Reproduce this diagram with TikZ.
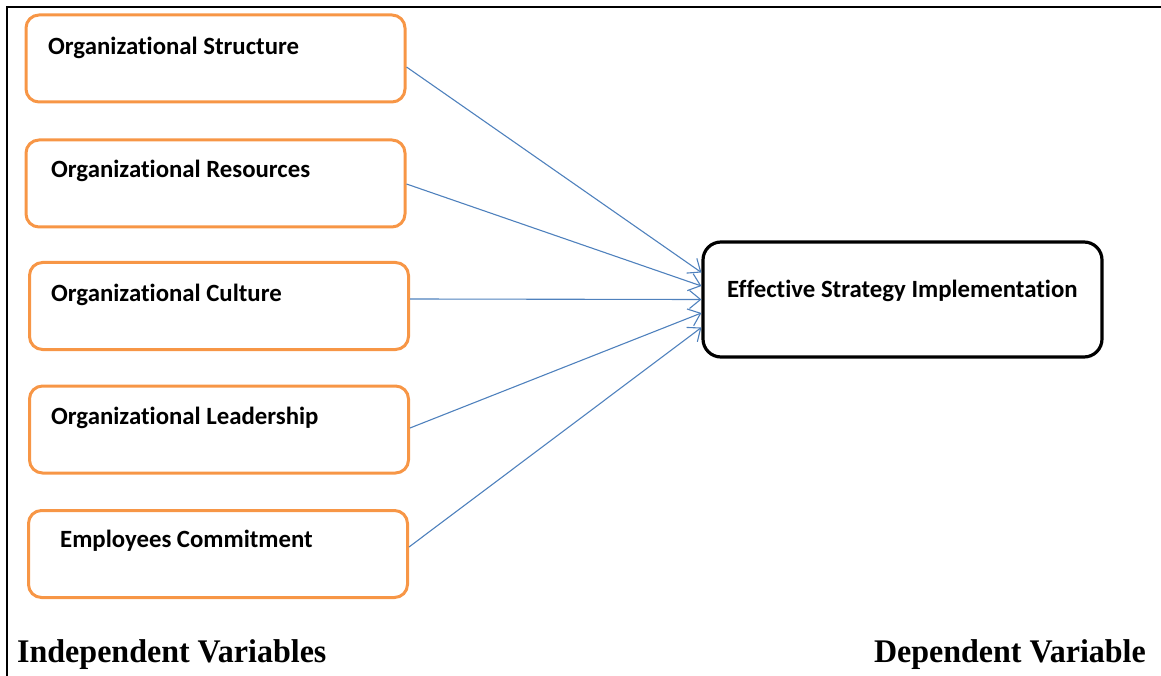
\documentclass[tikz,border=0pt]{standalone}
\usepackage{fontspec}
\setmainfont{Liberation Serif}
\newfontfamily\boxfont[Ligatures=NoCommon]{Carlito}
\newfontfamily\labfont[FakeStretch=0.97]{Liberation Serif}
\usetikzlibrary{arrows.meta,calc}
\definecolor{boxorange}{HTML}{F79646}
\definecolor{arrowblue}{HTML}{4F81BD}
\begin{document}
\begin{tikzpicture}[x=1pt,y=-1pt,
  ivbox/.style={draw=boxorange,line width=3pt,rounded corners=13pt,minimum width=379pt,minimum height=87pt,inner sep=0pt},
  dvbox/.style={draw=black,line width=3.2pt,rounded corners=18pt,minimum width=399pt,minimum height=115pt,inner sep=0pt},
  boxtext/.style={font=\boxfont\bfseries\fontsize{24.8}{28}\selectfont,anchor=base west,inner sep=0pt},
  labtext/.style={font=\labfont\bfseries\fontsize{33}{38}\selectfont,anchor=base west,inner sep=0pt},
  link/.style={draw=arrowblue,line width=1.1pt,-{Straight Barb[length=11pt,width=18pt,line width=1.1pt]}}]
\useasboundingbox (0,0) rectangle (1161,676);
\draw[line width=1.2pt] (7,676) -- (7,7) -- (1161,7);
% independent variable boxes
\node[ivbox] (b1) at (215.5,58.5) {};
\node[ivbox] (b2) at (215.5,183.5) {};
\node[ivbox] (b3) at (219,306) {};
\node[ivbox] (b4) at (219,429.5) {};
\node[ivbox] (b5) at (218,554) {};
\node[boxtext] (t1) at (48,54.5) {Organizational Structure};
\node[boxtext] (t2) at (51,177.5) {Organizational Resources};
\node[boxtext] (t3) at (51,301) {Organizational Culture};
\node[boxtext] (t4) at (51,424) {Organizational Leadership};
\node[boxtext] (t5) at (60,547) {Employees Commitment};
% dependent variable box
\node[dvbox] (d) at (902.5,299.5) {};
\node[boxtext] (dt) at (727,297) {Effective Strategy Implementation};
% connectors
\draw[link] ([yshift=-8.5pt]b1.east) -- ([yshift=27pt]d.west);
\draw[link] ([yshift=-0.5pt]b2.east) -- ([yshift=13.5pt]d.west);
\draw[link] ([yshift=7pt]b3.east) -- ([yshift=0pt]d.west);
\draw[link] ([yshift=1.5pt]b4.east) -- ([yshift=-13.5pt]d.west);
\draw[link] ([yshift=7pt]b5.east) -- ([yshift=-28pt]d.west);
% bottom labels
\node[labtext] (iv) at (17,662) {Independent Variables};
\node[labtext,anchor=base east] (dv) at (1146,662) {Dependent Variable};
\end{tikzpicture}
\end{document}
